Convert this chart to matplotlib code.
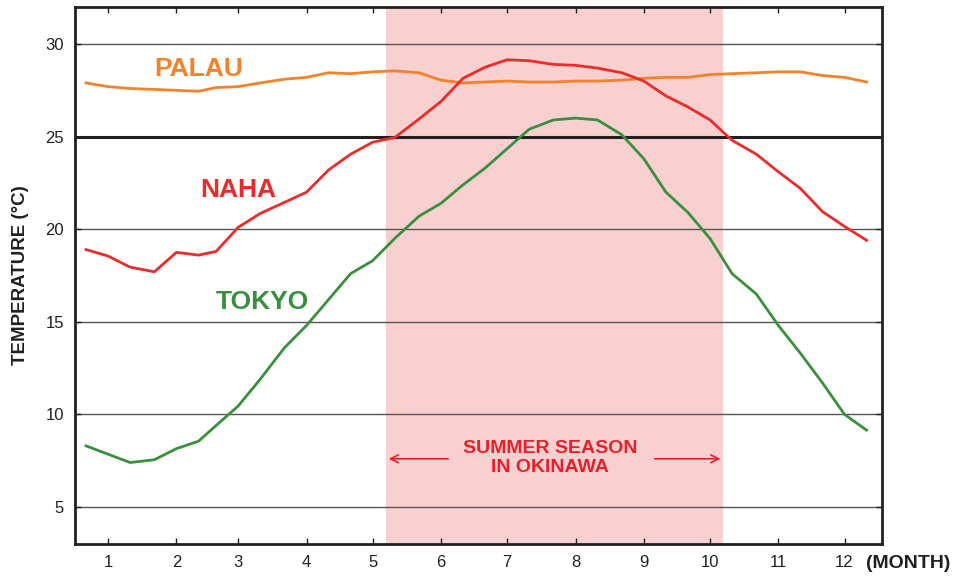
import matplotlib.pyplot as plt
import numpy as np

plt.rcParams['font.family'] = ['Liberation Sans', 'DejaVu Sans']

# month starts (day of year, 0-based)
month_start = [0, 31, 59, 90, 120, 151, 181, 212, 243, 273, 304, 334]
month_labels = [str(m) for m in range(1, 13)]

# dekad values (5th, 15th, 25th of each month), deg C
tokyo = [8.3, 7.85, 7.4, 7.55, 8.15, 8.55, 9.4, 10.45, 11.9,
         13.6, 14.8, 16.2, 17.6, 18.3, 19.5, 20.7, 21.4, 22.4,
         23.3, 24.35, 25.4, 25.9, 26.0, 25.9, 25.1, 23.8, 22.0,
         20.9, 19.5, 17.6, 16.5, 14.8, 13.3, 11.7, 10.0, 9.15]
naha = [18.9, 18.55, 17.95, 17.7, 18.75, 18.6, 18.8, 20.1, 20.85,
        21.45, 22.0, 23.2, 24.05, 24.7, 24.95, 25.95, 26.9, 28.15,
        28.75, 29.15, 29.1, 28.9, 28.85, 28.7, 28.45, 28.0, 27.2,
        26.6, 25.9, 24.8, 24.05, 23.1, 22.2, 20.95, 20.15, 19.4]
palau = [27.9, 27.7, 27.6, 27.55, 27.5, 27.45, 27.65, 27.7, 27.9,
         28.1, 28.2, 28.45, 28.4, 28.5, 28.55, 28.45, 28.05, 27.9,
         27.95, 28.0, 27.95, 27.95, 28.0, 28.0, 28.05, 28.15, 28.2,
         28.2, 28.35, 28.4, 28.45, 28.5, 28.5, 28.3, 28.2, 27.95]

summer_start, summer_end = 141, 294   # May 21 - Oct 21

days = [s + d for s in month_start for d in (5, 15, 25)]
ticks = [s + 15 for s in month_start]

fig = plt.figure(figsize=(9.56, 5.77), dpi=100)
ax = fig.add_axes([75 / 956, 33 / 577, 807 / 956, 537 / 577])

ax.axvspan(summer_start, summer_end, color='#f9d0d0', lw=0, zorder=0)

for y in [5, 10, 15, 20, 30]:
    ax.axhline(y, color='#555555', lw=1.0, zorder=1)
ax.axhline(25, color='#231f20', lw=2.2, zorder=1)

ax.plot(days, palau, color='#f5822a', lw=2.0, zorder=3)
ax.plot(days, naha, color='#ee2b2b', lw=2.0, zorder=3)
ax.plot(days, tokyo, color='#3a8f3e', lw=2.0, zorder=3)

ax.text(56, 28.67, 'PALAU', color='#f5822a', fontsize=19, fontweight='bold',
        ha='center', va='center')
ax.text(74, 22.1, 'NAHA', color='#ee2b2b', fontsize=19, fontweight='bold',
        ha='center', va='center')
ax.text(85, 16.05, 'TOKYO', color='#3a8f3e', fontsize=19, fontweight='bold',
        ha='center', va='center')

ax.text(215.5, 7.65, 'SUMMER SEASON\nIN OKINAWA', color='#e8202a', fontsize=14,
        fontweight='bold', ha='center', va='center', linespacing=1.2)
ax.annotate('', xy=(summer_start, 7.6), xytext=(170.5, 7.6),
            arrowprops=dict(arrowstyle='->', color='#e8202a', lw=1.2,
                            mutation_scale=14))
ax.annotate('', xy=(summer_end, 7.6), xytext=(261.7, 7.6),
            arrowprops=dict(arrowstyle='->', color='#e8202a', lw=1.2,
                            mutation_scale=14))

ax.set_xlim(0, 366)
ax.set_ylim(3, 32)
ax.set_xticks(ticks)
ax.set_xticklabels(month_labels)
ax.set_yticks([5, 10, 15, 20, 25, 30])
ax.tick_params(direction='in', length=4, width=1, top=True, right=True,
               labelsize=12, colors='#231f20', pad=8)

for sp in ax.spines.values():
    sp.set_linewidth(2.0)
    sp.set_color('#231f20')

ax.set_ylabel('TEMPERATURE (\u00b0C)', fontsize=13.5, fontweight='bold',
              color='#231f20', labelpad=12)
fig.text(908 / 956, 1 - 563 / 577, '(MONTH)', fontsize=14, fontweight='bold',
         color='#231f20', ha='center', va='center')

fig.savefig('out.png', dpi=100)
